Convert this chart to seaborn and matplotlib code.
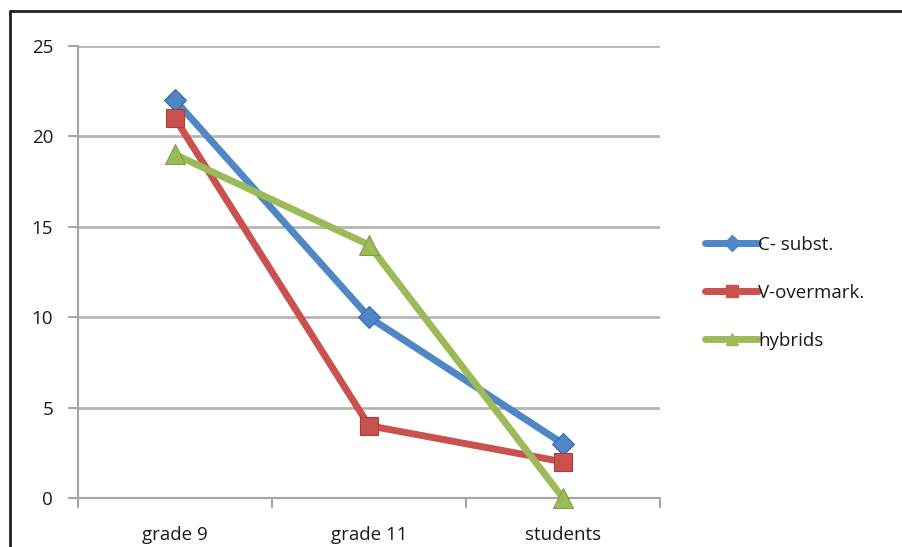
import matplotlib
matplotlib.use("Agg")
import matplotlib.pyplot as plt
from matplotlib.lines import Line2D
import seaborn as sns
import pandas as pd

categories = ["grade 9", "grade 11", "students"]
series_names = ["C- subst.", "V-overmark.", "hybrids"]
c_subst = [22, 10, 3]
v_overmark = [21, 4, 2]
hybrids = [19, 14, 0]
y_ticks = [0, 5, 10, 15, 20, 25]

colors = ["#4F86C6", "#C9524F", "#9BBB59"]
edge_colors = ["#3A6AA6", "#A33F3C", "#7F9E45"]
markers = ["D", "s", "^"]
marker_sizes = [11, 13, 14]

rows = []
for name, vals in zip(series_names, [c_subst, v_overmark, hybrids]):
    for i, (cat, v) in enumerate(zip(categories, vals)):
        rows.append({"pos": i, "category": cat, "series": name, "value": v})
df = pd.DataFrame(rows)

sns.set_theme(style="white")
plt.rcParams["font.family"] = ["Open Sans", "DejaVu Sans"]
text_color = "#1A1A1A"

fig = plt.figure(figsize=(9.03, 5.47), dpi=100)
ax = fig.add_axes([0.0864, 0.0896, 0.6445, 0.8263])

sns.lineplot(data=df, x="pos", y="value", hue="series", style="series",
             palette=colors, markers=markers, dashes=False, linewidth=5,
             markersize=13, markeredgewidth=0.8, ax=ax, legend=False, sort=False)

for line, ec, ms in zip(ax.get_lines(), edge_colors, marker_sizes):
    line.set_markeredgecolor(ec)
    line.set_markersize(ms)
    line.set_solid_capstyle("butt")
    line.set_clip_on(False)
    line.set_zorder(3)

ax.set_xlim(-0.5, len(categories) - 0.5)
ax.set_ylim(0, 25)
ax.set_yticks(y_ticks)
ax.set_yticklabels([str(t) for t in y_ticks], fontsize=13.5, color=text_color)
ax.set_xticks(range(len(categories)))
ax.set_xticklabels(categories, fontsize=13.5, color=text_color)
ax.set_xticks([i - 0.5 for i in range(len(categories) + 1)], minor=True)
ax.tick_params(axis="x", which="major", length=0, pad=20)
ax.tick_params(axis="x", which="minor", length=7, width=1.5, color="#A6A6A6", direction="out", bottom=True)
ax.tick_params(axis="y", length=7, width=1.5, color="#A6A6A6", direction="out", left=True, pad=11)
ax.set_xlabel("")
ax.set_ylabel("")

ax.grid(axis="y", color="#B5B5B5", linewidth=2)
ax.grid(axis="x", visible=False)
ax.set_axisbelow(True)
for side in ["top", "right"]:
    ax.spines[side].set_visible(False)
for side in ["left", "bottom"]:
    ax.spines[side].set_color("#A6A6A6")
    ax.spines[side].set_linewidth(1.5)

handles = [Line2D([0], [0], color=c, marker=m, markersize=8, linewidth=5,
                  markeredgecolor=c)
           for c, m in zip(colors, markers)]
leg = fig.legend(handles, series_names, loc="upper left", bbox_to_anchor=(0.762, 0.6),
                 frameon=False, handlelength=2.85, handletextpad=0.0, labelspacing=1.6,
                 fontsize=13.5)
for t in leg.get_texts():
    t.set_color(text_color)

# chart frame on the top and left edges
fig.add_artist(Line2D([0.011, 0.011], [0.0, 0.979], transform=fig.transFigure,
                      color="#222222", linewidth=2))
fig.add_artist(Line2D([0.011, 1.0], [0.979, 0.979], transform=fig.transFigure,
                      color="#222222", linewidth=2))

fig.savefig("out.png", dpi=100)
